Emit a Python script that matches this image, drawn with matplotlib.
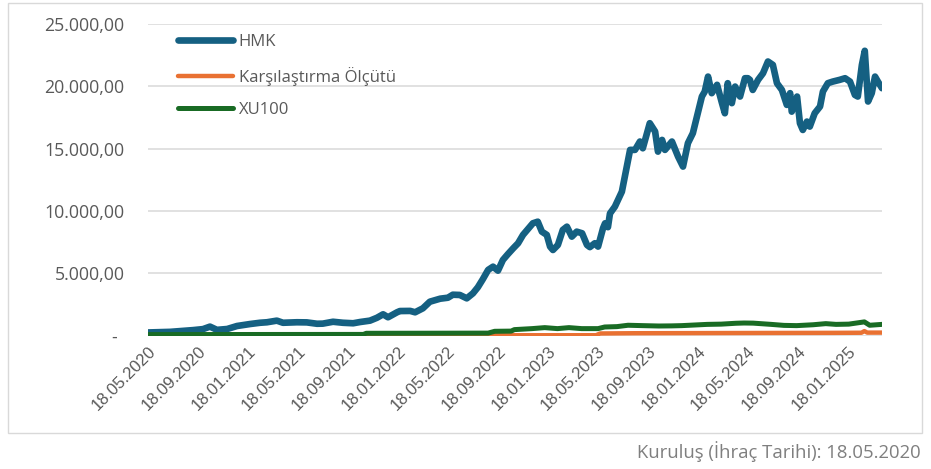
import matplotlib
matplotlib.use("Agg")
import matplotlib.pyplot as plt
import matplotlib.dates as mdates
from matplotlib.patches import Rectangle
from matplotlib.transforms import ScaledTranslation
from matplotlib.ticker import FuncFormatter
import pandas as pd

# fon fiyat serisi (HMK)
hmk_dates = [
    "2020-05-18", "2020-07-11", "2020-09-05", "2020-09-29", "2020-10-16", "2020-11-02",
    "2020-11-27", "2020-12-21", "2021-01-22", "2021-02-15", "2021-03-04", "2021-03-28",
    "2021-04-12", "2021-05-16", "2021-06-09", "2021-07-04", "2021-07-18", "2021-08-12",
    "2021-09-05", "2021-09-30", "2021-10-17", "2021-11-10", "2021-11-27", "2021-12-12",
    "2021-12-24", "2022-01-15", "2022-01-22", "2022-02-16", "2022-02-28", "2022-03-19",
    "2022-04-05", "2022-04-30", "2022-05-19", "2022-05-31", "2022-06-17", "2022-07-04",
    "2022-07-19", "2022-07-31", "2022-08-12", "2022-08-25", "2022-09-06", "2022-09-18",
    "2022-09-30", "2022-10-12", "2022-10-25", "2022-11-06", "2022-11-18", "2022-12-05",
    "2022-12-12", "2022-12-24", "2023-01-03", "2023-01-15", "2023-01-23", "2023-01-30",
    "2023-02-11", "2023-02-23", "2023-03-05", "2023-03-17", "2023-03-29", "2023-04-11",
    "2023-04-23", "2023-04-30", "2023-05-12", "2023-05-20", "2023-06-01", "2023-06-06",
    "2023-06-13", "2023-06-18", "2023-06-30", "2023-07-17", "2023-07-29", "2023-08-06",
    "2023-08-18", "2023-08-30", "2023-09-06", "2023-09-23", "2023-10-06", "2023-10-13",
    "2023-10-23", "2023-10-30", "2023-11-16", "2023-12-01", "2023-12-13", "2023-12-25",
    "2024-01-06", "2024-01-16", "2024-01-28", "2024-02-04", "2024-02-12", "2024-02-21",
    "2024-03-05", "2024-03-17", "2024-03-24", "2024-03-31", "2024-04-10", "2024-04-18",
    "2024-04-30", "2024-05-12", "2024-05-19", "2024-05-24", "2024-05-31", "2024-06-13",
    "2024-06-25", "2024-07-07", "2024-07-19", "2024-07-29", "2024-08-10", "2024-08-22",
    "2024-08-30", "2024-09-03", "2024-09-16", "2024-09-23", "2024-09-30", "2024-10-10",
    "2024-10-17", "2024-10-29", "2024-11-11", "2024-11-18", "2024-11-30", "2024-12-12",
    "2024-12-29", "2025-01-11", "2025-01-23", "2025-02-04", "2025-02-11", "2025-02-21",
    "2025-02-28", "2025-03-08", "2025-03-17", "2025-03-25", "2025-04-01", "2025-04-11",
]
hmk_values = [
    250, 300, 440, 520, 720, 460,
    530, 770, 930, 1030, 1070, 1200,
    1030, 1070, 1060, 950, 960, 1110,
    1030, 990, 1090, 1200, 1430, 1710,
    1470, 1870, 1970, 1980, 1870, 2190,
    2720, 2960, 3040, 3280, 3260, 2990,
    3390, 3880, 4520, 5270, 5530, 5210,
    6070, 6530, 7000, 7410, 8080, 8740,
    9010, 9140, 8340, 8080, 7140, 6870,
    7270, 8480, 8740, 7940, 8340, 8210,
    7270, 7100, 7410, 7140, 8610, 9010,
    8700, 9800, 10350, 11550, 13560, 14900,
    14900, 15570, 15030, 17040, 16370, 14760,
    15700, 14900, 15570, 14360, 13560, 15440,
    16240, 17570, 19180, 19580, 20780, 19450,
    20120, 18650, 17840, 20250, 18650, 19980,
    19180, 20650, 20650, 20520, 19710, 20520,
    21050, 21990, 21720, 20250, 19710, 18510,
    19450, 17970, 19180, 17040, 16500, 17170,
    16770, 17840, 18380, 19580, 20250, 20380,
    20520, 20650, 20380, 19310, 19180, 21720,
    22850, 18780, 19450, 20780, 20380, 19850,
]

# karşılaştırma ölçütü
bench_dates = ["2020-05-18", "2021-10-30", "2023-05-15", "2023-05-25", "2023-08-15",
               "2024-01-15", "2024-06-15", "2024-12-15", "2025-02-20", "2025-02-27",
               "2025-03-06", "2025-04-11"]
bench_values = [25, 25, 30, 170, 190, 200, 210, 220, 230, 360, 240, 240]

# BIST 100
xu_dates = [
    "2020-05-18", "2020-09-15", "2021-03-15", "2021-10-25", "2021-11-01", "2022-03-15",
    "2022-08-25", "2022-09-10", "2022-10-20", "2022-10-28", "2022-12-10", "2023-01-10",
    "2023-02-10", "2023-03-10", "2023-04-10", "2023-05-20", "2023-06-05", "2023-07-05",
    "2023-08-01", "2023-09-05", "2023-10-15", "2023-11-15", "2023-12-10", "2024-01-10",
    "2024-02-10", "2024-03-15", "2024-04-20", "2024-05-10", "2024-06-01", "2024-07-15",
    "2024-08-15", "2024-09-15", "2024-10-25", "2024-11-25", "2024-12-20", "2025-01-20",
    "2025-02-27", "2025-03-12", "2025-04-11",
]
xu_values = [
    80, 85, 90, 95, 185, 190,
    200, 345, 360, 480, 560, 640,
    560, 640, 560, 560, 690, 720,
    830, 800, 770, 780, 800, 850,
    900, 920, 990, 1010, 1000, 900,
    820, 800, 870, 960, 900, 920,
    1100, 830, 900,
]

tick_start = "2020-05-18"
n_ticks = 15

c_hmk = "#156082"
c_bench = "#E97132"
c_xu = "#196B24"
grey_txt = "#595959"

W, H = 931, 469
fig = plt.figure(figsize=(W / 100, H / 100), dpi=100)
ax = fig.add_axes([148 / W, 1 - 335.6 / H, (882 - 148) / W, (335.6 - 24) / H])

hmk = pd.to_datetime(hmk_dates)
bench = pd.to_datetime(bench_dates)
xu = pd.to_datetime(xu_dates)

ax.plot(hmk, hmk_values, color=c_hmk, lw=4.8, solid_joinstyle="round",
        solid_capstyle="round", label="HMK", zorder=3)
ax.plot(bench, bench_values, color=c_bench, lw=3.2, solid_joinstyle="round",
        solid_capstyle="round", label="Karşılaştırma Ölçütü", zorder=4)
ax.plot(xu, xu_values, color=c_xu, lw=3.6, solid_joinstyle="round",
        solid_capstyle="round", label="XU100", zorder=5)

ax.set_ylim(0, 25000)
ax.set_xlim(hmk[0], hmk[-1])
ax.set_yticks(range(0, 25001, 5000))
ax.yaxis.set_major_formatter(FuncFormatter(
    lambda v, p: "-" if v == 0 else f"{v:,.2f}".replace(",", "X").replace(".", ",").replace("X", ".")))

ticks = pd.date_range(tick_start, periods=n_ticks, freq=pd.DateOffset(months=4))
ax.set_xticks(ticks)
ax.xaxis.set_major_formatter(mdates.DateFormatter("%d.%m.%Y"))

ax.grid(axis="y", color="#d9d9d9", lw=1.1, zorder=0)
for s in ax.spines.values():
    s.set_visible(False)
ax.tick_params(length=0)
ax.tick_params(axis="y", pad=17, labelcolor=grey_txt, labelsize=12.8)
ax.tick_params(axis="x", pad=6, labelcolor=grey_txt, labelsize=12)

for lab in ax.get_yticklabels():
    lab.set_family("Open Sans")
ax.get_yticklabels()[0].set_transform(
    ax.get_yticklabels()[0].get_transform() + ScaledTranslation(-7 / 100, 0, fig.dpi_scale_trans))
for lab in ax.get_xticklabels():
    lab.set_family("Liberation Sans")
    lab.set_rotation(45)
    lab.set_ha("right")
    lab.set_va("top")
    lab.set_rotation_mode("anchor")

fig.legend(loc="upper left", bbox_to_anchor=(178 / W, 1 - 34 / H), frameon=False,
           prop={"family": "Open Sans", "size": 12}, labelcolor=grey_txt,
           handlelength=3.3, handletextpad=0.35, labelspacing=1.0,
           borderpad=0, borderaxespad=0)

fig.patches.append(Rectangle((8 / W, 1 - 433 / H), 914 / W, 430 / H,
                             transform=fig.transFigure, fill=False,
                             edgecolor="#d9d9d9", lw=1))

fig.text(921 / W, 1 - 452 / H, "Kuruluş (İhraç Tarihi): 18.05.2020",
         ha="right", va="center", color="#7f7f7f", fontsize=13.3, family="Open Sans")

fig.savefig("out.png", dpi=100)
